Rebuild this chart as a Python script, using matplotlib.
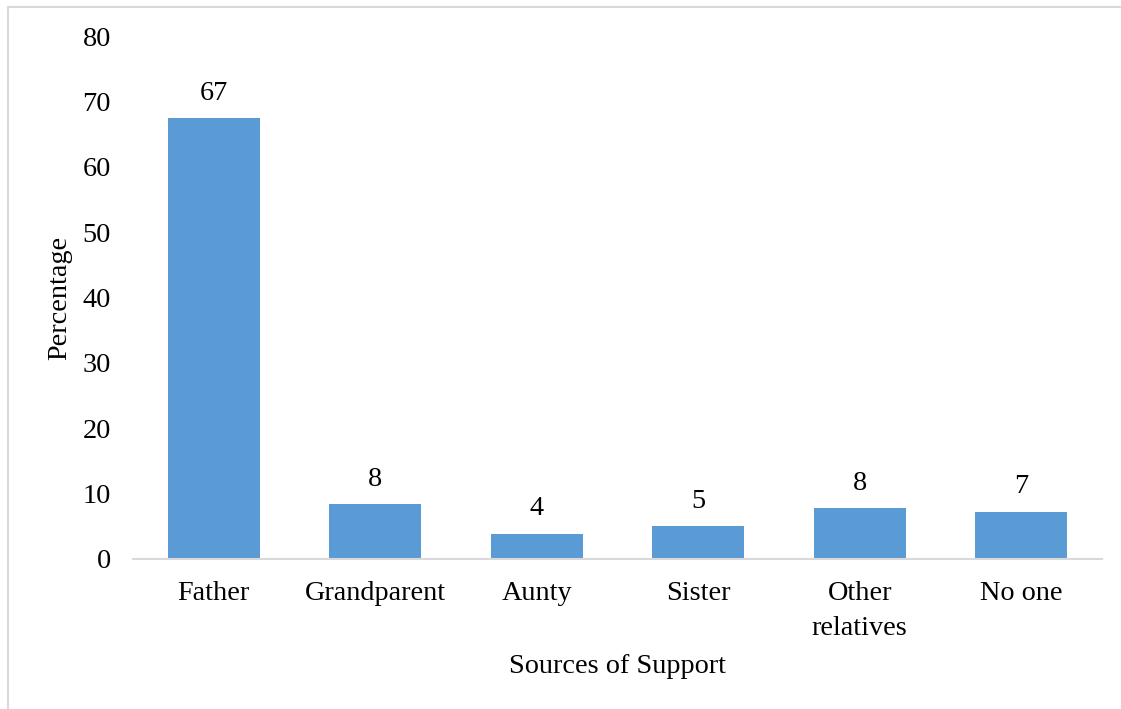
import matplotlib
matplotlib.use("Agg")
import matplotlib.pyplot as plt
from matplotlib.lines import Line2D

plt.rcParams['font.family'] = ['Liberation Serif', 'DejaVu Serif']

# sources of support and share of respondents (%)
sources = ["Father", "Grandparent", "Aunty", "Sister", "Other\nrelatives", "No one"]
percent = [67.4, 8.4, 3.9, 5.0, 7.8, 7.2]
y_ticks = [0, 10, 20, 30, 40, 50, 60, 70, 80]

bar_color = "#5B9BD5"
grid_gray = "#D9D9D9"
font_size = 20.3

fig = plt.figure(figsize=(11.21, 7.09), dpi=100)
ax = fig.add_axes([133 / 1121, 150 / 709, 969 / 1121, 523 / 709])

x = range(len(sources))
bars = ax.bar(x, percent, width=0.57, color=bar_color, zorder=2)

# value labels above each bar
for rect, val in zip(bars, percent):
    ax.annotate("{:.0f}".format(val),
                xy=(rect.get_x() + rect.get_width() / 2, rect.get_height()),
                xytext=(0, 18), textcoords="offset points",
                ha="center", va="center", fontsize=font_size)

ax.set_xlim(-0.5, len(sources) - 0.5)
ax.set_ylim(0, 80)
ax.set_yticks(y_ticks)
ax.set_xticks(list(x))
ax.set_xticklabels(sources, fontsize=font_size, linespacing=1.5, va="top")
ax.tick_params(axis="y", length=0, pad=16, labelsize=font_size)
ax.tick_params(axis="x", length=0, pad=16)

for side in ["top", "right", "left"]:
    ax.spines[side].set_visible(False)
ax.spines["bottom"].set_color(grid_gray)
ax.spines["bottom"].set_linewidth(1.5)

ax.set_xlabel("Sources of Support", fontsize=font_size)
ax.set_ylabel("Percentage", fontsize=font_size)
ax.xaxis.set_label_coords(0.5, -0.206)
ax.xaxis.label.set_va("center")
ax.yaxis.set_label_coords(-0.0753, 0.5)
ax.yaxis.label.set_va("center")

# light frame on the left and top of the chart area
fig.add_artist(Line2D([8 / 1121, 8 / 1121], [0, 1 - 7 / 709],
                      transform=fig.transFigure, color=grid_gray, linewidth=1.5))
fig.add_artist(Line2D([8 / 1121, 1], [1 - 7 / 709, 1 - 7 / 709],
                      transform=fig.transFigure, color=grid_gray, linewidth=1.5))

fig.savefig("out.png", dpi=100)
